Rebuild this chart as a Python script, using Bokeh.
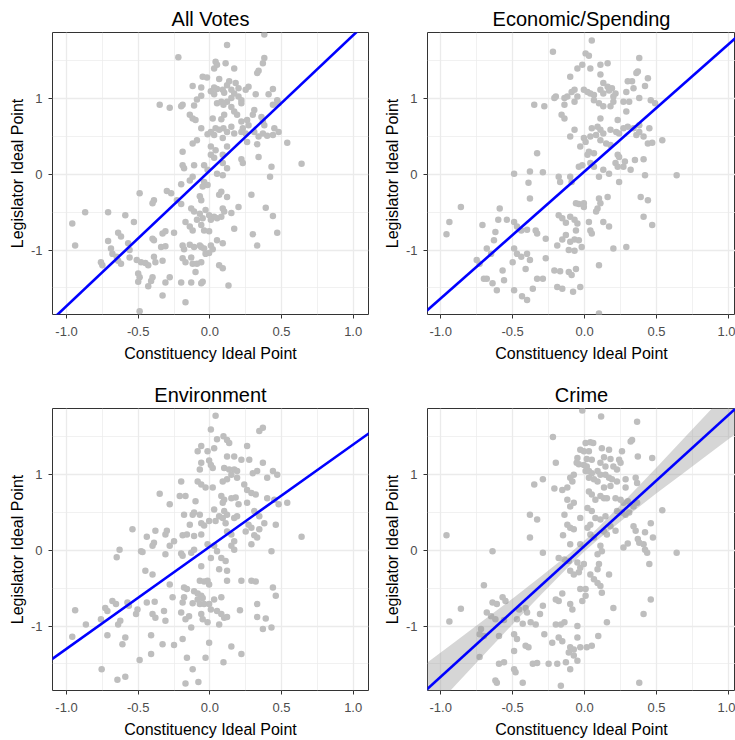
import numpy as np
from bokeh.plotting import figure
from bokeh.layouts import row, column
from bokeh.models import Range1d, FixedTicker
from bokeh.embed import file_html
from bokeh.resources import INLINE

# ---------------- data ----------------
titles = ["All Votes", "Economic/Spending", "Environment", "Crime"]
x_axis_title = "Constituency Ideal Point"
y_axis_title = "Legislator Ideal Point"
x_ticks = [-1.0, -0.5, 0.0, 0.5, 1.0]
x_tick_labels = ["-1.0", "-0.5", "0.0", "0.5", "1.0"]
x_minor = [-0.75, -0.25, 0.25, 0.75]
y_ticks = [-1, 0, 1]
y_tick_labels = ["-1", "0", "1"]
y_minor = [-1.5, -0.5, 0.5, 1.5]

av_x = [0.38, 0.12, -0.22, 0.38, 0.37, 0.04, 0.05, 0.03, 0.11, 0.34,
        0.33, 0.17, -0.05, -0.02, 0.065, 0.135, 0.12, 0.18, 0.20, -0.12,
        -0.06, 0.03, 0.05, 0.007, 0.03, 0.27, 0.25, 0.09, 0.10, 0.15,
        0.17, 0.20, 0.15, 0.32, -0.06, -0.09, 0.44, 0.41, 0.22, 0.22,
        -0.11, -0.19, -0.20, -0.35, -0.28, 0.05, 0.08, 0.12, 0.095, 0.15,
        0.17, 0.19, 0.31, 0.30, 0.47, 0.48, 0.44, -0.14, -0.12, -0.10,
        0.02, 0.08, 0.10, 0.22, 0.26, 0.27, 0.36, 0.37, 0.38, -0.06,
        0.007, 0.04, 0.065, 0.03, -0.016, 0.095, 0.12, 0.15, 0.17, 0.23,
        0.22, 0.25, 0.31, 0.34, 0.37, 0.45, 0.48, 0.44, 0.40, 0.54,
        -0.12, -0.09, 0.007, 0.04, 0.09, 0.12, 0.26, 0.33, -0.19, 0.007,
        0.03, 0.09, 0.22, 0.23, 0.34, 0.64, -0.19, -0.18, -0.11, -0.04,
        -0.016, 0.09, 0.12, 0.43, 0.42, -0.12, -0.14, -0.04, -0.016, -0.05,
        0.05, 0.09, -0.20, -0.30, -0.27, -0.49, -0.07, -0.06, 0.08, 0.065,
        0.12, 0.29, -0.39, -0.40, -0.23, -0.20, -0.13, -0.11, -0.07, -0.03,
        -0.005, 0.03, 0.09, 0.10, 0.15, 0.20, 0.39, -0.87, -0.71, -0.96,
        -0.59, -0.53, -0.64, -0.62, -0.17, -0.14, -0.12, -0.09, -0.05, -0.06,
        -0.04, 0.007, 0.05, -0.005, 0.08, 0.17, 0.44, -0.31, -0.33, -0.25,
        -0.40, -0.39, -0.71, -0.94, -0.57, -0.56, -0.34, -0.31, -0.19, -0.18,
        -0.14, -0.11, -0.07, -0.06, -0.04, 0.007, 0.02, 0.05, 0.09, 0.30,
        0.33, 0.47, -0.69, -0.68, -0.65, -0.76, -0.75, -0.64, -0.62, -0.56,
        -0.51, -0.48, -0.45, -0.43, -0.39, -0.38, -0.33, -0.19, -0.17, -0.13,
        -0.12, -0.09, -0.06, -0.03, -0.005, 0.065, 0.09, -0.10, -0.50, -0.49,
        -0.40, -0.41, -0.28, -0.31, -0.50, -0.43, -0.20, -0.13, -0.05, -0.06,
        0.13, -0.33, -0.17, -0.49]
av_y = [1.85, 1.71, 1.55, 1.54, 1.47, 1.49, 1.45, 1.40, 1.47, 1.37,
        1.34, 1.40, 1.29, 1.28, 1.26, 1.23, 1.18, 1.21, 1.14, 1.17,
        1.15, 1.15, 1.13, 1.10, 1.06, 1.16, 1.12, 1.12, 1.08, 1.12,
        1.07, 1.03, 1.01, 1.06, 1.04, 0.99, 1.13, 1.06, 0.98, 0.94,
        0.91, 0.92, 0.90, 0.92, 0.88, 0.94, 0.96, 0.96, 0.92, 0.89,
        0.83, 0.79, 0.85, 0.79, 0.98, 0.94, 0.92, 0.79, 0.74, 0.72,
        0.74, 0.73, 0.79, 0.70, 0.72, 0.65, 0.76, 0.70, 0.65, 0.61,
        0.56, 0.61, 0.59, 0.52, 0.53, 0.61, 0.56, 0.63, 0.54, 0.61,
        0.56, 0.54, 0.56, 0.50, 0.54, 0.61, 0.56, 0.52, 0.51, 0.42,
        0.41, 0.45, 0.37, 0.32, 0.48, 0.37, 0.43, 0.40, 0.30, 0.26,
        0.22, 0.26, 0.20, 0.15, 0.23, 0.14, 0.12, 0.08, 0.12, 0.12,
        0.06, 0.15, 0.08, 0.10, -0.03, -0.03, -0.08, -0.10, -0.14, -0.16,
        0.01, -0.01, -0.13, -0.22, -0.25, -0.25, -0.29, -0.34, -0.23, -0.27,
        -0.30, -0.27, -0.34, -0.38, -0.34, -0.39, -0.45, -0.49, -0.52, -0.47,
        -0.54, -0.56, -0.45, -0.49, -0.51, -0.43, -0.44, -0.50, -0.50, -0.65,
        -0.54, -0.63, -0.77, -0.82, -0.63, -0.69, -0.74, -0.60, -0.58, -0.67,
        -0.74, -0.60, -0.58, -0.75, -0.56, -0.72, -0.55, -0.75, -0.78, -0.77,
        -0.85, -0.87, -0.88, -0.94, -0.91, -1.00, -0.96, -0.95, -0.94, -0.99,
        -0.93, -0.96, -0.94, -0.96, -0.98, -0.94, -0.99, -0.87, -0.91, -0.79,
        -0.94, -0.77, -0.98, -1.05, -1.09, -1.16, -1.20, -1.14, -1.18, -1.10,
        -1.13, -1.16, -1.17, -1.20, -1.09, -1.16, -1.14, -1.11, -1.16, -1.10,
        -1.18, -1.18, -1.16, -1.05, -1.04, -1.20, -1.24, -1.29, -1.31, -1.36,
        -1.36, -1.41, -1.36, -1.43, -1.42, -1.48, -1.43, -1.43, -1.42, -1.44,
        -1.47, -1.60, -1.69, -1.81]

econ_x = [0.05, -0.22, 0.007, 0.03, 0.38, 0.16, 0.11, -0.016, -0.05, 0.04,
          0.37, 0.36, 0.44, 0.11, -0.10, 0.30, 0.33, 0.34, 0.29, 0.13,
          0.16, 0.19, 0.42, -0.07, -0.09, -0.005, 0.02, 0.04, 0.065, 0.11,
          0.13, 0.17, 0.215, 0.20, -0.20, -0.21, -0.14, -0.12, -0.05, 0.27,
          0.31, 0.38, 0.46, 0.49, -0.35, -0.28, -0.14, -0.07, 0.065, 0.10,
          0.13, 0.18, 0.20, 0.29, -0.16, -0.14, 0.11, 0.23, 0.38, 0.34,
          0.30, 0.45, -0.07, 0.05, 0.09, 0.11, 0.13, 0.08, 0.04, 0.18,
          0.22, 0.24, 0.27, 0.38, 0.36, 0.41, -0.10, -0.005, 0.007, 0.11,
          0.15, 0.18, 0.44, 0.47, 0.54, -0.03, 0.03, 0.065, 0.02, 0.23,
          0.24, -0.33, 0.28, 0.35, 0.41, -0.016, -0.04, 0.04, 0.065, 0.215,
          0.23, 0.27, 0.32, 0.13, 0.17, -0.49, -0.38, -0.29, 0.42, 0.64,
          -0.18, -0.17, -0.10, -0.09, 0.10, 0.24, -0.39, -0.38, 0.39, 0.44,
          0.10, 0.11, 0.09, 0.08, -0.06, -0.04, -0.005, -0.005, 0.16, -0.18,
          -0.155, -0.13, -0.10, -0.07, -0.05, -0.06, 0.03, 0.04, 0.05, 0.13,
          0.17, 0.47, 0.41, -0.59, -0.60, -0.54, -0.49, -0.47, -0.86, -0.94,
          -0.96, -0.71, -0.62, -0.63, -0.44, -0.40, -0.34, -0.33, -0.27, -0.19,
          -0.155, -0.13, -0.10, -0.07, -0.04, -0.02, -0.11, -0.07, 0.20, 0.29,
          -0.68, -0.65, -0.49, -0.47, -0.50, -0.44, -0.40, -0.38, -0.41, -0.75,
          -0.73, -0.27, -0.21, -0.17, -0.11, -0.06, -0.09, 0.10, -0.70, -0.68,
          -0.57, -0.56, -0.64, -0.33, -0.29, -0.61, -0.49, -0.36, -0.19, -0.155,
          -0.03, -0.08, -0.435, -0.40, 0.10]
econ_y = [1.77, 1.62, 1.60, 1.57, 1.54, 1.47, 1.45, 1.45, 1.40, 1.40,
          1.36, 1.34, 1.27, 1.32, 1.29, 1.23, 1.23, 1.14, 1.09, 1.21,
          1.16, 1.14, 1.17, 1.12, 1.09, 1.12, 1.09, 1.07, 1.05, 1.12,
          1.07, 1.11, 1.07, 1.03, 1.03, 1.01, 1.01, 1.03, 1.03, 0.96,
          0.96, 1.01, 0.98, 0.94, 0.92, 0.90, 0.92, 0.96, 0.98, 0.94,
          0.90, 0.90, 0.96, 0.83, 0.79, 0.74, 0.74, 0.72, 0.65, 0.61,
          0.63, 0.61, 0.59, 0.61, 0.63, 0.59, 0.54, 0.52, 0.50, 0.59,
          0.56, 0.54, 0.61, 0.56, 0.52, 0.50, 0.50, 0.48, 0.43, 0.45,
          0.41, 0.39, 0.41, 0.42, 0.45, 0.37, 0.30, 0.28, 0.26, 0.26,
          0.23, 0.28, 0.17, 0.19, 0.20, 0.12, 0.10, 0.15, 0.10, 0.15,
          0.10, 0.10, 0.06, 0.06, 0.01, 0.01, 0.04, 0.03, -0.01, -0.01,
          -0.03, -0.10, -0.03, -0.10, -0.03, -0.10, -0.11, -0.32, -0.30, -0.34,
          -0.32, -0.38, -0.45, -0.49, -0.38, -0.39, -0.38, -0.43, -0.30, -0.54,
          -0.58, -0.64, -0.56, -0.60, -0.65, -0.74, -0.63, -0.74, -0.78, -0.63,
          -0.69, -0.67, -0.56, -0.45, -0.60, -0.60, -0.63, -0.69, -0.43, -0.63,
          -0.79, -0.67, -0.76, -0.87, -0.74, -0.73, -0.74, -0.78, -0.85, -0.94,
          -0.86, -0.80, -0.89, -0.86, -0.87, -0.96, -1.00, -1.01, -0.98, -0.96,
          -0.98, -1.05, -0.98, -1.05, -1.16, -1.09, -1.05, -1.13, -1.25, -1.13,
          -1.18, -1.11, -1.27, -1.28, -1.29, -1.25, -1.33, -1.20, -1.38, -1.38,
          -1.27, -1.40, -1.44, -1.38, -1.38, -1.53, -1.53, -1.51, -1.49, -1.51,
          -1.49, -1.55, -1.61, -1.66, -1.84]

env_x = [0.04, 0.007, 0.37, 0.345, 0.05, 0.095, 0.12, 0.03, -0.016, -0.06,
         -0.085, 0.26, 0.135, 0.12, 0.17, -0.005, 0.007, 0.02, -0.06, -0.07,
         0.22, 0.275, 0.37, 0.10, 0.135, 0.17, 0.19, 0.33, 0.30, 0.44,
         0.47, 0.40, 0.15, 0.19, 0.12, 0.09, -0.20, -0.085, -0.06, -0.03,
         0.02, 0.24, 0.26, 0.29, 0.32, -0.35, -0.21, -0.17, -0.10, 0.08,
         0.10, 0.15, 0.18, 0.09, 0.20, 0.26, 0.40, 0.45, 0.48, 0.54,
         -0.28, -0.18, -0.12, -0.11, -0.07, 0.03, 0.065, 0.09, 0.10, 0.12,
         0.17, 0.19, 0.31, 0.345, 0.04, 0.11, -0.14, -0.06, -0.04, -0.005,
         0.38, 0.46, 0.27, 0.29, 0.345, -0.54, -0.38, -0.30, -0.31, -0.19,
         -0.16, -0.11, -0.06, 0.12, 0.15, 0.17, 0.25, 0.31, 0.33, 0.29,
         0.64, -0.44, -0.39, -0.40, -0.25, -0.28, -0.016, 0.03, 0.05, 0.15,
         0.17, -0.11, -0.13, -0.63, -0.65, -0.48, -0.47, 0.43, -0.31, -0.20,
         -0.19, 0.007, 0.08, 0.11, -0.06, -0.45, -0.40, 0.065, 0.12, -0.07,
         -0.04, -0.016, -0.005, 0.22, 0.29, 0.32, 0.12, -0.28, -0.18, -0.16,
         0.44, 0.46, -0.11, -0.085, -0.06, -0.085, -0.07, -0.12, -0.05, -0.04,
         -0.18, -0.19, -0.26, 0.03, -0.005, 0.007, 0.08, -0.68, -0.655, -0.575,
         -0.565, -0.44, -0.385, 0.33, -0.94, -0.73, -0.715, -0.505, -0.515, -0.40,
         -0.38, -0.32, -0.20, -0.145, -0.06, -0.05, -0.016, 0.05, 0.08, 0.10,
         0.12, 0.21, 0.33, 0.39, -0.76, -0.625, -0.64, -0.865, -0.31, -0.17,
         -0.13, 0.065, 0.37, 0.43, -0.96, -0.715, -0.41, -0.59, -0.61, -0.33,
         -0.25, -0.19, -0.005, 0.15, -0.41, 0.22, -0.49, -0.16, -0.03, 0.095,
         -0.755, -0.12, -0.59, -0.645, -0.17, -0.08]
env_y = [1.78, 1.60, 1.62, 1.58, 1.47, 1.51, 1.46, 1.35, 1.31, 1.38,
         1.31, 1.38, 1.42, 1.24, 1.24, 1.19, 1.13, 1.09, 1.16, 1.07,
         1.20, 1.20, 1.16, 1.09, 1.07, 1.07, 1.05, 1.05, 1.02, 1.05,
         1.00, 0.96, 1.00, 0.96, 0.94, 0.91, 0.91, 0.91, 0.87, 0.83,
         0.83, 0.87, 0.80, 0.76, 0.74, 0.75, 0.72, 0.72, 0.65, 0.72,
         0.67, 0.69, 0.70, 0.63, 0.61, 0.63, 0.69, 0.67, 0.61, 0.63,
         0.61, 0.47, 0.47, 0.50, 0.47, 0.54, 0.45, 0.43, 0.52, 0.47,
         0.43, 0.45, 0.52, 0.45, 0.39, 0.36, 0.34, 0.36, 0.33, 0.39,
         0.36, 0.34, 0.34, 0.30, 0.28, 0.28, 0.26, 0.26, 0.21, 0.20,
         0.21, 0.19, 0.21, 0.25, 0.21, 0.12, 0.25, 0.20, 0.17, 0.08,
         0.18, 0.18, 0.10, 0.06, 0.12, 0.06, 0.08, 0.06, -0.01, 0.06,
         0.01, 0.01, -0.03, 0.01, -0.09, -0.01, -0.02, -0.01, -0.05, -0.04,
         -0.07, -0.10, -0.10, -0.14, -0.21, -0.27, -0.32, -0.25, -0.27, -0.40,
         -0.41, -0.40, -0.45, -0.40, -0.40, -0.41, -0.40, -0.45, -0.49, -0.51,
         -0.49, -0.60, -0.54, -0.57, -0.60, -0.65, -0.71, -0.70, -0.63, -0.71,
         -0.62, -0.69, -0.62, -0.65, -0.71, -0.78, -0.62, -0.67, -0.71, -0.69,
         -0.73, -0.69, -0.68, -0.71, -0.79, -0.76, -0.80, -0.78, -0.84, -0.84,
         -0.89, -0.80, -0.82, -0.87, -0.84, -0.91, -0.95, -0.80, -0.84, -0.89,
         -0.88, -0.79, -0.88, -0.90, -0.91, -0.93, -0.98, -0.98, -0.93, -0.91,
         -1.02, -0.98, -1.04, -1.02, -1.14, -1.12, -1.12, -1.15, -1.24, -1.24,
         -1.25, -1.17, -1.22, -1.27, -1.37, -1.37, -1.45, -1.42, -1.42, -1.48,
         -1.57, -1.57, -1.67, -1.71, -1.76, -1.74]

crime_x = [-0.016, 0.115, 0.365, -0.22, 0.33, 0.32, 0.007, 0.04, 0.06, 0.12,
           0.17, 0.26, -0.03, -0.005, 0.03, -0.05, 0.015, 0.05, 0.135, 0.18,
           0.24, 0.25, 0.37, 0.47, -0.20, -0.055, -0.04, -0.005, 0.015, 0.11,
           0.145, 0.20, 0.225, 0.007, 0.03, 0.05, 0.09, 0.11, 0.145, 0.17,
           -0.075, -0.10, -0.085, 0.03, 0.065, 0.09, 0.19, 0.225, 0.285, 0.355,
           0.365, -0.29, -0.35, -0.21, -0.155, -0.12, 0.135, 0.18, 0.285, 0.03,
           0.05, 0.11, 0.135, 0.155, 0.075, 0.215, 0.25, 0.27, 0.30, -0.12,
           -0.075, -0.10, 0.34, 0.365, 0.02, 0.05, 0.225, 0.26, 0.285, 0.31,
           0.54, -0.38, -0.33, -0.14, -0.03, 0.075, 0.11, 0.145, 0.46, -0.12,
           -0.10, -0.075, 0.04, 0.02, 0.18, 0.215, 0.34, 0.355, 0.42, -0.15,
           -0.38, -0.96, 0.04, 0.065, 0.135, 0.155, 0.37, 0.38, 0.41, 0.42,
           0.435, 0.475, 0.30, 0.27, -0.10, -0.03, 0.11, 0.12, 0.09, -0.64,
           -0.29, 0.64, -0.18, -0.14, -0.11, -0.05, -0.03, -0.005, 0.10, 0.09,
           0.45, -0.10, -0.075, -0.04, 0.04, 0.065, 0.09, 0.17, -0.70, -0.03,
           0.007, 0.11, 0.12, -0.20, -0.18, -0.155, -0.016, 0.007, 0.46, -0.57,
           -0.55, -0.64, -0.61, -0.10, -0.085, -0.29, -0.86, -0.455, -0.41, -0.40,
           0.20, -0.68, -0.65, 0.41, -0.31, -0.62, -0.56, -0.47, -0.43, -0.94,
           -0.375, -0.34, -0.20, -0.165, -0.14, -0.05, 0.155, -0.72, -0.73, -0.70,
           -0.595, -0.49, -0.47, -0.28, -0.18, -0.155, -0.05, 0.095, -0.41, -0.39,
           -0.225, -0.10, -0.075, -0.11, -0.03, 0.015, 0.05, -0.49, -0.73, -0.075,
           -0.05, -0.595, -0.56, -0.36, -0.33, -0.25, -0.19, -0.13, -0.10, -0.49,
           -0.48, -0.62, -0.61, -0.43, -0.165, 0.38]
crime_y = [1.85, 1.77, 1.70, 1.50, 1.46, 1.44, 1.42, 1.43, 1.42, 1.35,
           1.33, 1.31, 1.33, 1.31, 1.31, 1.22, 1.21, 1.20, 1.23, 1.21,
           1.20, 1.16, 1.24, 1.22, 1.16, 1.16, 1.14, 1.13, 1.11, 1.16,
           1.11, 1.11, 1.07, 1.05, 1.05, 1.02, 1.05, 1.00, 1.00, 0.96,
           1.00, 0.96, 0.91, 0.96, 0.94, 0.91, 0.94, 0.91, 0.94, 0.96,
           0.89, 0.94, 0.87, 0.82, 0.80, 0.83, 0.83, 0.85, 0.83, 0.78,
           0.74, 0.72, 0.69, 0.69, 0.67, 0.69, 0.67, 0.63, 0.65, 0.67,
           0.63, 0.58, 0.58, 0.63, 0.56, 0.52, 0.52, 0.50, 0.47, 0.50,
           0.53, 0.47, 0.41, 0.47, 0.43, 0.43, 0.41, 0.45, 0.36, 0.34,
           0.30, 0.28, 0.34, 0.30, 0.32, 0.26, 0.32, 0.26, 0.24, 0.20,
           0.17, 0.20, 0.21, 0.17, 0.25, 0.21, 0.15, 0.10, 0.08, 0.01,
           -0.03, 0.17, 0.09, 0.04, 0.08, 0.08, 0.06, -0.01, -0.05, -0.01,
           -0.03, -0.03, -0.10, -0.12, -0.14, -0.16, -0.23, -0.18, -0.18, -0.25,
           -0.18, -0.27, -0.32, -0.29, -0.32, -0.38, -0.43, -0.32, -0.46, -0.51,
           -0.51, -0.47, -0.56, -0.65, -0.67, -0.57, -0.67, -0.60, -0.65, -0.62,
           -0.67, -0.69, -0.71, -0.71, -0.78, -0.73, -0.77, -0.78, -0.76, -0.82,
           -0.76, -0.82, -0.87, -0.84, -0.84, -0.91, -0.92, -0.91, -0.97, -0.94,
           -0.95, -0.98, -0.98, -0.98, -0.95, -1.00, -0.95, -1.04, -1.11, -1.13,
           -1.13, -1.11, -1.17, -1.11, -1.15, -1.20, -1.15, -1.13, -1.26, -1.28,
           -1.22, -1.28, -1.31, -1.35, -1.28, -1.28, -1.26, -1.33, -1.41, -1.39,
           -1.46, -1.50, -1.48, -1.50, -1.49, -1.50, -1.50, -1.48, -1.57, -1.57,
           -1.61, -1.72, -1.75, -1.75, -1.79, -1.75]

# fitted lines (intercept, slope)
fit_intercept = [0.05, 0.04, 0.05, 0.06]
fit_slope = [1.79, 1.68, 1.35, 1.73]
# confidence band half-width of the Crime fit
crime_ci_x = [-1.2, -1.1, -0.9, -0.7, -0.5, -0.3, -0.1, 0.0, 0.1, 0.3, 0.5, 0.7, 0.9, 1.1, 1.2]
crime_ci_half = [0.38, 0.35, 0.29, 0.23, 0.17, 0.12, 0.08, 0.07, 0.08, 0.12, 0.17, 0.23, 0.29, 0.35, 0.38]

for a, b in [(av_x, av_y), (econ_x, econ_y), (env_x, env_y), (crime_x, crime_y)]:
    assert len(a) == len(b), (len(a), len(b))

FONT = "Liberation Sans"
Y_RANGE = (-1.852, 1.876)


def style_axis(ax, label_standoff, title_standoff):
    ax.axis_line_color = None
    ax.major_tick_line_color = "#333333"
    ax.major_tick_out = 4
    ax.major_tick_in = 0
    ax.minor_tick_line_color = None
    ax.major_label_text_font = FONT
    ax.major_label_text_font_size = "13px"
    ax.major_label_text_color = "#4D4D4D"
    ax.major_label_standoff = label_standoff
    ax.axis_label_text_font = FONT
    ax.axis_label_text_font_size = "16px"
    ax.axis_label_text_font_style = "normal"
    ax.axis_label_text_color = "#000000"
    ax.axis_label_standoff = title_standoff


def make_panel(title, xs, ys, b0, b1, x_range, width, height, top, bottom, right,
               band_x=None, band_half=None):
    p = figure(width=width, height=height, output_backend="svg", toolbar_location=None,
               x_range=Range1d(*x_range), y_range=Range1d(*Y_RANGE),
               min_border_left=52, min_border_right=right,
               min_border_top=top, min_border_bottom=bottom,
               background_fill_color="white", border_fill_color="white")
    p.outline_line_color = "#333333"
    p.outline_line_width = 1

    p.title.text = title
    p.title.align = "center"
    p.title.text_font = FONT
    p.title.text_font_size = "20px"
    p.title.text_font_style = "normal"
    p.title.text_color = "#000000"
    p.title.standoff = 6

    p.xaxis.ticker = FixedTicker(ticks=x_ticks, minor_ticks=x_minor)
    p.yaxis.ticker = FixedTicker(ticks=y_ticks, minor_ticks=y_minor)
    p.xaxis.major_label_overrides = dict(zip(x_ticks, x_tick_labels))
    p.yaxis.major_label_overrides = dict(zip(y_ticks, y_tick_labels))
    p.xaxis.axis_label = x_axis_title
    p.yaxis.axis_label = y_axis_title
    style_axis(p.xaxis[0], 8, 6)
    style_axis(p.yaxis[0], 6, 2)

    for g in (p.xgrid[0], p.ygrid[0]):
        g.grid_line_color = "#EBEBEB"
        g.grid_line_width = 1.3
        g.minor_grid_line_color = "#EBEBEB"
        g.minor_grid_line_width = 0.7

    p.scatter(xs, ys, size=6.5, marker="circle", fill_color="#BEBEBE", line_color=None)

    fx = np.array([x_range[0] - 0.2, x_range[1] + 0.2])
    fy = b0 + b1 * fx
    if band_x is not None:
        bx = np.array(band_x)
        centre = b0 + b1 * bx
        p.varea(x=bx, y1=centre - np.array(band_half), y2=centre + np.array(band_half),
                fill_color="#999999", fill_alpha=0.4)
    p.line(fx, fy, line_color="#0000FF", line_width=2.6)
    return p


LEFT_X = (-1.098, 1.107)
RIGHT_X = (-1.092, 1.049)

p1 = make_panel(titles[0], av_x, av_y, fit_intercept[0], fit_slope[0], LEFT_X,
                375, 375, 32, 61, 7)
p2 = make_panel(titles[1], econ_x, econ_y, fit_intercept[1], fit_slope[1], RIGHT_X,
                360, 375, 32, 61, 0)
p3 = make_panel(titles[2], env_x, env_y, fit_intercept[2], fit_slope[2], LEFT_X,
                375, 365, 33, 50, 7)
p4 = make_panel(titles[3], crime_x, crime_y, fit_intercept[3], fit_slope[3], RIGHT_X,
                360, 365, 33, 50, 0, band_x=crime_ci_x, band_half=crime_ci_half)

layout = column(row(p1, p2), row(p3, p4))

with open("out.html", "w") as f:
    f.write(file_html(layout, INLINE))
